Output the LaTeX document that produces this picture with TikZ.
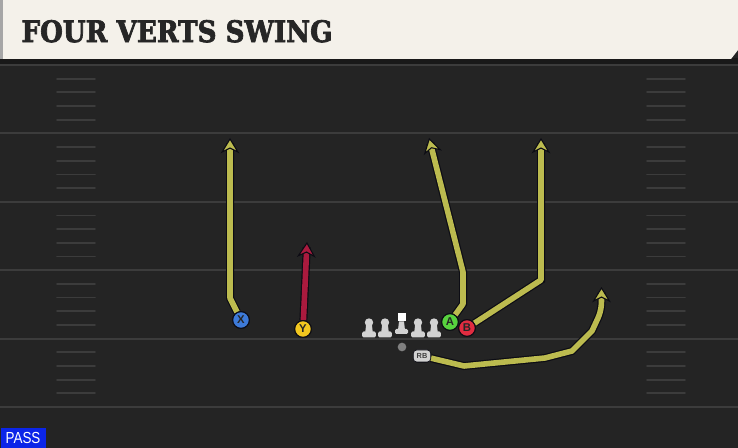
\documentclass[tikz,border=0pt]{standalone}
\usepackage{fontspec}
\setmainfont{Liberation Sans}
\newfontfamily\titlefont{DejaVu Serif}[BoldFeatures={FakeBold=2.5}]
\usetikzlibrary{arrows.meta}
\definecolor{fieldbg}{HTML}{242424}
\definecolor{bannerbg}{HTML}{F4F1EA}
\definecolor{fieldline}{HTML}{3C3C3C}
\definecolor{routeyel}{HTML}{BCBB4F}
\definecolor{routered}{HTML}{AA1A3E}
\definecolor{routeedge}{HTML}{0C0C14}
\definecolor{xblue}{HTML}{3D7AD9}
\definecolor{yyellow}{HTML}{F2C71F}
\definecolor{agreen}{HTML}{58D23E}
\definecolor{bred}{HTML}{E02C40}
\definecolor{olgrey}{HTML}{D2D2D2}
\definecolor{passblue}{HTML}{0B25E8}
\tikzset{every picture/.style={line width=0.75pt}}
\tikzset{
  yardline/.style={draw=fieldline, line width=1.5pt},
  hashmark/.style={draw=fieldline, line width=1.3pt, line cap=round},
  player/.style={circle, draw=routeedge, line width=0.8pt, minimum size=12.5pt, inner sep=0pt,
    font=\fontsize{8.5}{9}\selectfont\bfseries, text=black!85},
  rbtag/.style={rounded corners=2.5pt, fill=olgrey, draw=routeedge, line width=0.5pt, minimum width=13pt,
    minimum height=9pt, inner sep=0pt, font=\fontsize{5.5}{6}\selectfont\bfseries, text=black!75},
  route/.style={draw=#1, line width=4.2pt, line join=round,
    preaction={draw=routeedge, line width=6pt, -, shorten >=4pt},
    -{Stealth[length=11.5pt, width=14pt, inset=3.5pt, color=routeedge, fill=#1, line width=0.8pt]}},
}

\begin{document}
\begin{tikzpicture}[x=0.75pt,y=0.75pt,yscale=-1,xscale=1]
\useasboundingbox (0,0) rectangle (738,448);

%Shape: field
\fill[fieldbg] (0,0) rectangle (738,448);
%Yard lines
\foreach \yl in {65,133.4,201.8,270.2,338.6,407} {
  \draw[yardline] (0,\yl) -- (738,\yl);
}
%Hash marks
\foreach \i in {0,...,4} {
  \foreach \k in {1,...,4} {
    \pgfmathsetmacro\hy{65+68.4*\i+13.68*\k}
    \draw[hashmark] (57,\hy) -- (95,\hy);
    \draw[hashmark] (647,\hy) -- (685,\hy);
  }
}

%Shape: banner
\fill[black!90] (0,58) rectangle (738,64);
\fill[bannerbg] (0,0) -- (738,0) -- (738,50) -- (731,59) -- (0,59) -- cycle;
\fill[black!35] (0,0) rectangle (2.7,59);
% Text Node
\node[anchor=south west, inner sep=0pt, text=black!85] (title) at (21,43)
  {\resizebox{233.25pt}{16.5pt}{\titlefont\bfseries FOUR VERTS SWING}};

%Players
\node[player, fill=xblue] (X) at (241,320) {X};
\node[player, fill=yyellow] (Y) at (303,329) {Y};
\node[player, fill=agreen] (A) at (450,322) {A};
\node[player, fill=bred] (B) at (467,328) {B};
\node[circle, fill=black!50, minimum size=6.5pt, inner sep=0pt] (QB) at (402,347) {};
\node[rbtag] (RB) at (422,356) {RB};

%Routes
\coordinate (xEnd) at (230,138);
\coordinate (yEnd) at (307,242);
\coordinate (aEnd) at (429,138);
\coordinate (bEnd) at (541,138);
\coordinate (rbEnd) at (601.5,287);
\draw[route=routeyel] (X) -- (230,298) -- (xEnd);
\draw[route=routered] (Y) -- (yEnd);
\draw[route=routeyel] (A) -- (463,304) -- (463,272) -- (aEnd);
\draw[route=routeyel] (B) -- (541,280) -- (bEnd);
\draw[route=routeyel] (RB) -- (464,366) -- (545,358) -- (572,351) -- (592,331) -- (598,318)
  .. controls (601,311) and (601.5,306) .. (601.5,300) -- (rbEnd);
%Players on top again
\node[player, fill=xblue] at (X) {X};
\node[player, fill=yyellow] at (Y) {Y};
\node[player, fill=agreen] at (A) {A};
\node[player, fill=bred] at (B) {B};
\node[rbtag] at (RB) {RB};

%Linemen
\foreach \px in {369,385,418,434} {
  \fill[olgrey] (\px,322.5) circle (4.2);
  \fill[olgrey] (\px-2.7,323) -- (\px+2.7,323) -- (\px+3.8,332.5) -- (\px-3.8,332.5) -- cycle;
  \fill[olgrey, rounded corners=1pt] (\px-6.8,331.5) rectangle (\px+6.8,337.5);
}
%Center
\fill[white] (397.5,313.5) rectangle (405.5,321.5);
\fill[olgrey] (399,321.5) -- (404,321.5) -- (405,330) -- (398,330) -- cycle;
\fill[olgrey, rounded corners=1pt] (395,329) rectangle (408,334);

% Text Node
\node[fill=passblue, text=white, anchor=south west, minimum width=33.75pt, minimum height=15pt,
  inner sep=0pt, font=\fontsize{12}{13}\selectfont] (play) at (0,448) {\scalebox{0.84}[1]{PASS}};

\end{tikzpicture}
\end{document}
